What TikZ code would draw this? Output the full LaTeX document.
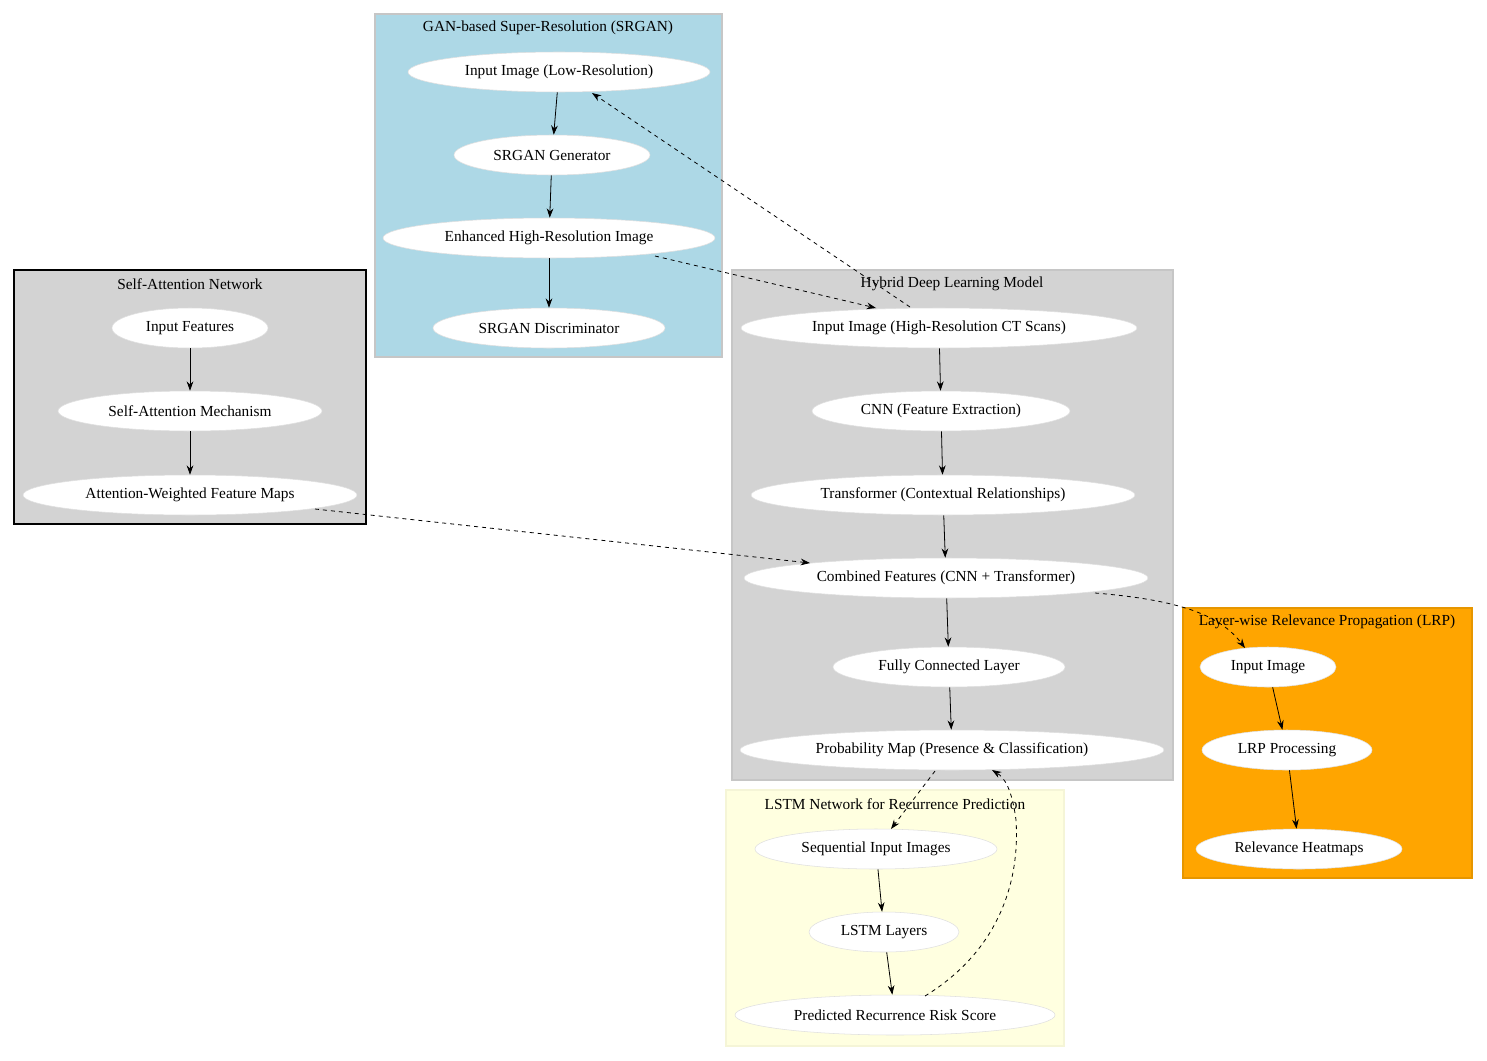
\documentclass[tikz,border=0pt]{standalone}
\usepackage{fontspec}
\setmainfont{Liberation Serif}
\usetikzlibrary{shapes.geometric,arrows.meta}
\begin{document}
\begin{tikzpicture}[x=0.75pt,y=-0.75pt,
  nd/.style={ellipse,fill=white,draw=gray!25,line width=0.4pt,inner sep=0pt,minimum height=30pt,font=\fontsize{11.5}{13}\selectfont},
  w/.style={minimum width=#1*0.75pt},
  cl/.style={draw=gray!45,line width=0.8pt},
  lbl/.style={font=\fontsize{11.5}{13}\selectfont,anchor=center},
  ar/.style={-{Stealth[length=7pt,width=5pt]},line width=0.6pt},
  da/.style={ar,dashed}]
\useasboundingbox (0,0) rectangle (1487,1060);
\fill[white] (0,0) rectangle (1487,1060);
% clusters
\draw[cl,fill={rgb,255:red,173;green,216;blue,230}] (375,14) rectangle (722,357);
\draw[line width=1pt,fill={rgb,255:red,211;green,211;blue,211}] (14,270) rectangle (366,524);
\draw[cl,fill={rgb,255:red,211;green,211;blue,211}] (732,270) rectangle (1173,780);
\draw[cl,draw={rgb,255:red,230;green,150;blue,0},fill={rgb,255:red,255;green,165;blue,0}] (1183,608) rectangle (1472,878);
\draw[cl,draw={rgb,255:red,245;green,245;blue,215},fill={rgb,255:red,255;green,255;blue,224}] (726,790) rectangle (1064,1046);
\node[lbl] (tg) at (548,28) {GAN-based Super-Resolution (SRGAN)};
\node[lbl] (ts) at (190,284) {Self-Attention Network};
\node[lbl] (th) at (952,284) {Hybrid Deep Learning Model};
\node[lbl] (tl) at (1327,622) {Layer-wise Relevance Propagation (LRP)};
\node[lbl] (tm) at (895,804) {LSTM Network for Recurrence Prediction};
% nodes
\node[nd,w=302] (g1) at (559,72) {Input Image (Low-Resolution)};
\node[nd,w=196] (g2) at (552,155) {SRGAN Generator};
\node[nd,w=332] (g3) at (549,238) {Enhanced High-Resolution Image};
\node[nd,w=232] (g4) at (549,328) {SRGAN Discriminator};
\node[nd,w=156] (s1) at (190,328) {Input Features};
\node[nd,w=264] (s2) at (190,411) {Self-Attention Mechanism};
\node[nd,w=334] (s3) at (190,495) {Attention-Weighted Feature Maps};
\node[nd,w=396] (h1) at (939,328) {Input Image (High-Resolution CT Scans)};
\node[nd,w=258] (h2) at (941,411) {CNN (Feature Extraction)};
\node[nd,w=384] (h3) at (943,495) {Transformer (Contextual Relationships)};
\node[nd,w=404] (h4) at (946,578) {Combined Features (CNN + Transformer)};
\node[nd,w=232] (h5) at (949,667) {Fully Connected Layer};
\node[nd,w=424] (h6) at (952,750) {Probability Map (Presence \& Classification)};
\node[nd,w=136] (l1) at (1268,667) {Input Image};
\node[nd,w=170] (l2) at (1287,750) {LRP Processing};
\node[nd,w=206] (l3) at (1299,849) {Relevance Heatmaps};
\node[nd,w=242] (m1) at (876,849) {Sequential Input Images};
\node[nd,w=150] (m2) at (884,932) {LSTM Layers};
\node[nd,w=320] (m3) at (895,1015) {Predicted Recurrence Risk Score};
% edges
\draw[ar] (g1) -- (g2); \draw[ar] (g2) -- (g3); \draw[ar] (g3) -- (g4);
\draw[ar] (s1) -- (s2); \draw[ar] (s2) -- (s3);
\draw[ar] (h1) -- (h2); \draw[ar] (h2) -- (h3); \draw[ar] (h3) -- (h4);
\draw[ar] (h4) -- (h5); \draw[ar] (h5) -- (h6);
\draw[ar] (l1) -- (l2); \draw[ar] (l2) -- (l3);
\draw[ar] (m1) -- (m2); \draw[ar] (m2) -- (m3);
\draw[da] (910,307) -- (592,93);
\draw[da] (655,256) -- (876,308);
\draw[da] (315,509) -- (810,563);
\draw[da] (1095,593) .. controls (1180,600) and (1220,615) .. (1245,648);
\draw[da] (935,771) -- (891,829);
\draw[da] (925,996) .. controls (1000,950) and (1020,880) .. (1016,820) .. controls (1012,790) and (1005,778) .. (992,770);
\end{tikzpicture}
\end{document}
